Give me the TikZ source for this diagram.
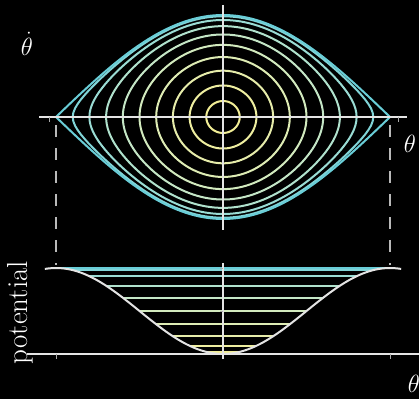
\documentclass[tikz,border=0pt]{standalone}
\usepackage{tikz}
\definecolor{c1}{RGB}{242,238,150}
\definecolor{c2}{RGB}{238,238,160}
\definecolor{c3}{RGB}{230,236,170}
\definecolor{c4}{RGB}{222,236,180}
\definecolor{c5}{RGB}{210,234,190}
\definecolor{c6}{RGB}{196,230,198}
\definecolor{c7}{RGB}{176,226,205}
\definecolor{c8}{RGB}{154,220,212}
\definecolor{c9}{RGB}{128,212,215}
\definecolor{c10}{RGB}{105,205,215}
\definecolor{axisgray}{RGB}{228,228,228}
\definecolor{tickgray}{RGB}{170,170,170}
\definecolor{dashgray}{RGB}{185,185,185}
\begin{document}
\begin{tikzpicture}[x=1pt,y=1pt,
  orbit/.style={line width=2pt},
  levelline/.style={line width=2pt},
  potcurve/.style={line width=2pt, draw=axisgray},
  axisline/.style={line width=1.8pt, draw=axisgray},
  tickline/.style={line width=1pt, draw=tickgray},
  dashline/.style={line width=2.6pt, draw=dashgray, dash pattern=on 12pt off 11pt},
  lab/.style={text=white, font=\fontsize{25}{28}\selectfont, inner sep=0pt}]
\fill[black] (0,0) rectangle (419,399);
\useasboundingbox (0,0) rectangle (419,399);
\coordinate (O1) at (223,282);
\coordinate (O2) at (223,45);
% phase portrait
\begin{scope}[shift={(O1)}, x=0.9278pt, y=51pt]
  \foreach \i/\c in {1/c1,2/c2,3/c3,4/c4,5/c5,6/c6,7/c7,8/c8,9/c9}{
    \pgfmathsetmacro\k{sin(9*\i)}
    \draw[orbit, draw=\c] plot[domain=0:360, samples=145] ({2*asin(\k*sin(\x))}, {2*\k*cos(\x)}) -- cycle;
  }
  \draw[orbit, draw=c10] plot[domain=-180:180, samples=73] (\x, {2*cos(\x/2)});
  \draw[orbit, draw=c10] plot[domain=-180:180, samples=73] (\x, {-2*cos(\x/2)});
\end{scope}
% potential
\begin{scope}[shift={(O2)}, x=0.9278pt, y=43pt]
  \foreach \i/\c in {1/c1,2/c2,3/c3,4/c4,5/c5,6/c6,7/c7,8/c8,9/c9,10/c10}{
    \pgfmathsetmacro\A{18*\i}
    \pgfmathsetmacro\E{1-cos(\A)}
    \draw[levelline, draw=\c] (-\A,\E) -- (\A,\E);
  }
  \draw[potcurve] plot[domain=-192:192, samples=97, smooth] (\x, {1-cos(\x)});
\end{scope}
% phase axes
\coordinate (pxl) at (39,282); \coordinate (pxr) at (407,282);
\coordinate (pyt) at (223,394); \coordinate (pyb) at (223,169);
\draw[axisline] (pxl) -- (pxr);
\draw[axisline] (pyt) -- (pyb);
\coordinate (t1a) at (49,282); \coordinate (t1b) at (49,277);
\coordinate (t2a) at (398,282); \coordinate (t2b) at (398,277);
\draw[tickline] (t1a) -- (t1b);
\draw[tickline] (t2a) -- (t2b);
% potential axes
\coordinate (vxl) at (27,45); \coordinate (vxr) at (419,45);
\coordinate (vyt) at (223,136); \coordinate (vyb) at (223,40);
\draw[axisline] (vxl) -- (vxr);
\draw[axisline] (vyt) -- (vyb);
\coordinate (t3a) at (56,45); \coordinate (t3b) at (56,40);
\coordinate (t4a) at (390,45); \coordinate (t4b) at (390,40);
\draw[tickline] (t3a) -- (t3b);
\draw[tickline] (t4a) -- (t4b);
\coordinate (t5a) at (223,131); \coordinate (t5b) at (220,131);
\coordinate (t6a) at (223,88); \coordinate (t6b) at (220,88);
\draw[tickline] (t5a) -- (t5b);
\draw[tickline] (t6a) -- (t6b);
% dashed projections
\coordinate (d1a) at (56,274); \coordinate (d1b) at (56,134);
\coordinate (d2a) at (390,274); \coordinate (d2b) at (390,134);
\draw[dashline] (d1a) -- (d1b);
\draw[dashline] (d2a) -- (d2b);
% labels
\node[lab] (thd) at (27,355) {$\dot{\theta}$};
\node[lab] (th1) at (410,255) {$\theta$};
\node[lab] (th2) at (414,15) {$\theta$};
\node[text=white, rotate=90, font=\fontsize{29}{32}\selectfont, inner sep=0pt] (pot) at (20,86.5) {potential};
\end{tikzpicture}
\end{document}
